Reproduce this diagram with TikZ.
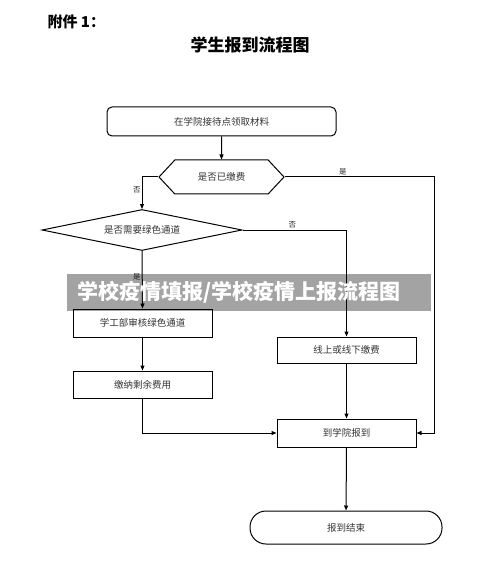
\documentclass[tikz,border=0pt]{standalone}
\usepackage{fontspec}
\newfontfamily\cjk{Noto Sans CJK SC}
\usetikzlibrary{positioning, shapes.geometric, shapes.symbols, arrows.meta}

\begin{document}
\begin{tikzpicture}[
  x=1pt, y=-1pt,
  font=\cjk\fontsize{9.5}{11}\selectfont,
  stepbox/.style={
    rectangle,
    draw,
    line width=1pt,
    inner sep=0pt,
    minimum width=139pt,
    text=black!80,
  },
  decision/.style={
    diamond,
    draw,
    line width=1pt,
    inner sep=0pt,
    text=black!80,
  },
  flow/.style={line width=1pt, -{Triangle[length=5pt, width=4pt]}},
  tag/.style={font=\cjk\fontsize{7.5}{8}\selectfont, text=black!85, inner sep=1pt},
]
\useasboundingbox (0,0) rectangle (500,585);

% --- heading ---
\node[anchor=west, font=\cjk\bfseries\fontsize{15}{16}\selectfont] (Annex) at (44,22) {附件 1：};
\node[font=\cjk\bfseries\fontsize{17}{18}\selectfont] (Title) at (250,45) {学生报到流程图};

% --- steps ---
\node[stepbox, rounded corners=5pt, minimum width=229pt, minimum height=29pt] (Pickup) at (221.5,121.5) {在学院接待点领取材料};
\node[signal, signal to=east and west, signal pointer angle=94, draw, line width=1pt,
      inner sep=0pt, minimum width=125pt, minimum height=34pt, text=black!80] (Fee) at (221.5,177) {是否已缴费};
\node[decision, aspect=4.9, minimum width=200pt, minimum height=41pt] (Green) at (142,230) {是否需要绿色通道};
\node[stepbox, minimum height=28pt] (Review) at (142.5,323) {学工部审核绿色通道};
\node[stepbox, minimum height=26pt] (Online) at (346.5,350) {线上或线下缴费};
\node[stepbox, minimum height=27pt] (Remain) at (142.5,384.5) {缴纳剩余费用};
\node[stepbox, minimum height=28pt] (Arrive) at (346.5,433) {到学院报到};
\node[stepbox, rounded corners=16pt, minimum width=192pt, minimum height=33pt] (Finish) at (346,527.5) {报到结束};

% --- connectors ---
\coordinate (PaidTurn) at (434,177);
\draw[flow] (Pickup) -- (Fee);
\draw[flow] (Fee.east) -- node[tag, pos=0.39, above] {是} (PaidTurn) |- (Arrive.east);
\draw[flow] (Fee.west) -| node[tag, pos=0.7, left] {否} (Green.north);
\draw[flow] (Green.east) -| node[tag, pos=0.24, above] {否} (Online.north);
\draw[flow] (Green.south) -- node[tag, pos=0.45, left] {是} (Review.north);
\draw[flow] (Review) -- (Remain);
\draw[flow] (Remain.south) |- (Arrive.west);
\draw[flow] (Online) -- (Arrive);
\draw[flow] (Arrive) -- (Finish);

% --- overlay band ---
\node[fill=black, fill opacity=0.36, text opacity=1, text=white, inner xsep=10pt, inner ysep=0pt,
      text width=344pt, align=left, minimum height=37pt,
      font=\cjk\bfseries\fontsize{21}{22}\selectfont] (Band) at (249,292.5) {学校疫情填报/学校疫情上报流程图};
\end{tikzpicture}
\end{document}
